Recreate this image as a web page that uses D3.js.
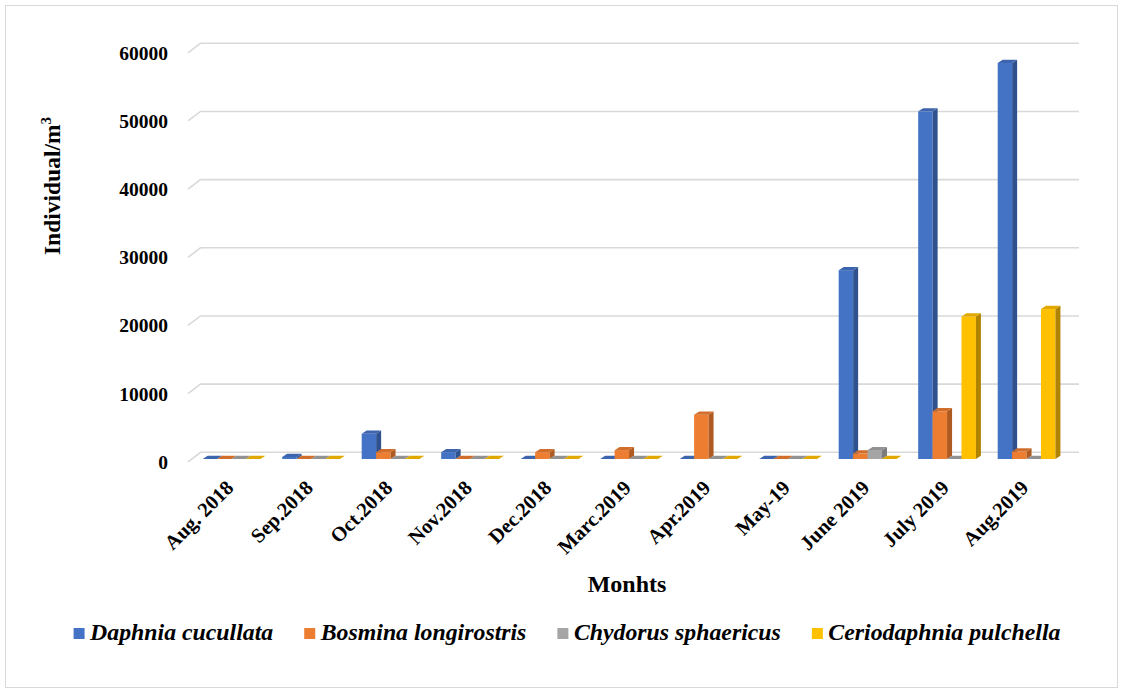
<!DOCTYPE html>
<html>
<head>
<meta charset="utf-8">
<script src="https://cdn.jsdelivr.net/npm/d3@7/dist/d3.min.js"></script>
<style>
  html, body { margin: 0; padding: 0; background: #ffffff; }
  svg { display: block; }
  text { font-family: "Liberation Serif", "Times New Roman", serif; }
</style>
</head>
<body>
<svg id="chart" width="1123" height="692"></svg>
<script>
// ---------- data ----------
const categories = ["Aug. 2018", "Sep.2018", "Oct.2018", "Nov.2018", "Dec.2018", "Marc.2019",
                    "Apr.2019", "May-19", "June 2019", "July 2019", "Aug.2019"];
const seriesNames = ["Daphnia cucullata", "Bosmina longirostris", "Chydorus sphaericus", "Ceriodaphnia pulchella"];
const daphniaCucullata      = [0, 300, 3700, 1000, 0, 0, 0, 0, 27700, 51000, 58100];
const bosminaLongirostris   = [0, 0, 1000, 0, 1000, 1300, 6500, 0, 800, 7000, 1100];
const chydorusSphaericus    = [0, 0, 0, 0, 0, 0, 0, 0, 1300, 0, 0];
const ceriodaphniaPulchella = [0, 0, 0, 0, 0, 0, 0, 0, 0, 20900, 22000];
const yTicks = [0, 10000, 20000, 30000, 40000, 50000, 60000];
const yTitle = "Individual/m";
const xTitle = "Monhts";

const seriesValues = [daphniaCucullata, bosminaLongirostris, chydorusSphaericus, ceriodaphniaPulchella];
const colors = ["#4472C4", "#ED7D31", "#A5A5A5", "#FFC000"];
const sideColors = ["#2F528F", "#AE5A21", "#7B7B7B", "#B08300"];

// ---------- geometry ----------
const svg = d3.select("#chart");
const W = 1123, H = 692;

// outer frame
svg.append("rect").attr("x", 5.5).attr("y", 5.5).attr("width", W - 11).attr("height", H - 10)
  .attr("fill", "#fff").attr("stroke", "#d9d9d9").attr("stroke-width", 1);

const depthDX = 12.5, depthDY = -9.5;        // floor depth (front -> back)
const frontLeft = 188;
const bandW = 79.5;
const backRight = 1079;

// y scale on back wall
const yBack = d3.scaleLinear().domain([0, 60000]).range([452.3, 43.3]);
// bar plane is a bit behind the front edge
const barShiftY = 6.7, barShiftX = 3;

// x band scale on front plane
const x = d3.scaleBand().domain(categories)
  .range([frontLeft, frontLeft + bandW * categories.length]).paddingInner(0).paddingOuter(0);
// inner scale for series within a category band (bar-plane coordinates)
const barW = 14.43;
const xInner = d3.scaleBand().domain(seriesNames).range([11.7, 11.7 + barW * 4]).padding(0);

// gridlines (back wall) and slanted left-wall ticks
const grid = svg.append("g");
yTicks.forEach(t => {
  const yb = yBack(t);
  grid.append("path")
    .attr("d", `M${frontLeft},${yb - depthDY} L${frontLeft + depthDX},${yb} L${backRight},${yb}`)
    .attr("fill", "none").attr("stroke", "#d9d9d9").attr("stroke-width", 1.6);
});

// y tick labels (front plane)
svg.append("g").selectAll("text").data(yTicks).join("text")
  .attr("x", 168).attr("y", d => yBack(d) - depthDY + 7)
  .attr("text-anchor", "end")
  .attr("font-size", 19.5).attr("font-weight", "bold").attr("fill", "#000")
  .text(d => d);

// bars
const bars = svg.append("g");
const bdx = 5, bdy = -3.2;
const yBar = v => yBack(v) + barShiftY;
categories.forEach((c, ci) => {
  seriesNames.forEach((s, si) => {
    const v = seriesValues[si][ci];
    const x0 = x(c) + barShiftX + xInner(s);
    const x1 = x0 + xInner.bandwidth();
    const yt = yBar(v), yb = yBar(0);
    const g = bars.append("g");
    g.append("rect").attr("x", x0).attr("y", yt).attr("width", x1 - x0).attr("height", Math.max(0, yb - yt))
      .attr("fill", colors[si]);
    g.append("path")
      .attr("d", `M${x1},${yt} L${x1 + bdx},${yt + bdy} L${x1 + bdx},${yb + bdy} L${x1},${yb} Z`)
      .attr("fill", sideColors[si]);
    g.append("path")
      .attr("d", `M${x0},${yt} L${x0 + bdx},${yt + bdy} L${x1 + bdx},${yt + bdy} L${x1},${yt} Z`)
      .attr("fill", d3.color(colors[si]).darker(0.35));
  });
});

// x tick labels rotated
svg.append("g").selectAll("text").data(categories).join("text")
  .attr("transform", d => `translate(${x(d) + x.bandwidth() / 2 + 7},${489}) rotate(-45)`)
  .attr("text-anchor", "end")
  .attr("font-size", 20.5).attr("font-weight", "bold").attr("fill", "#000")
  .text(d => d);

// axis titles
const yt = svg.append("text")
  .attr("transform", "translate(60,186) rotate(-90)")
  .attr("text-anchor", "middle")
  .attr("font-size", 23.5).attr("font-weight", "bold").attr("fill", "#000");
yt.append("tspan").text(yTitle);
yt.append("tspan").attr("dy", -9).attr("font-size", 15).text("3");

svg.append("text").attr("x", 627).attr("y", 592).attr("text-anchor", "middle")
  .attr("font-size", 24).attr("font-weight", "bold").attr("fill", "#000").text(xTitle);

// legend
const leg = svg.append("g");
const items = leg.selectAll("g").data(seriesNames).join("g");
items.append("rect").attr("width", 11).attr("height", 11).attr("y", -12).attr("fill", (d, i) => colors[i]);
items.append("text").attr("x", 16.5).attr("y", 0)
  .attr("font-size", 23.8).attr("font-weight", "bold").attr("font-style", "italic").attr("fill", "#000")
  .text(d => d);
let cx = 0;
const pos = [];
items.each(function () {
  const w = d3.select(this).select("text").node().getComputedTextLength();
  pos.push(cx);
  cx += 16.5 + w + 31;
});
const totalW = cx - 31;
const startX = 567 - totalW / 2;
items.attr("transform", (d, i) => `translate(${startX + pos[i]},640)`);
</script>
</body>
</html>
